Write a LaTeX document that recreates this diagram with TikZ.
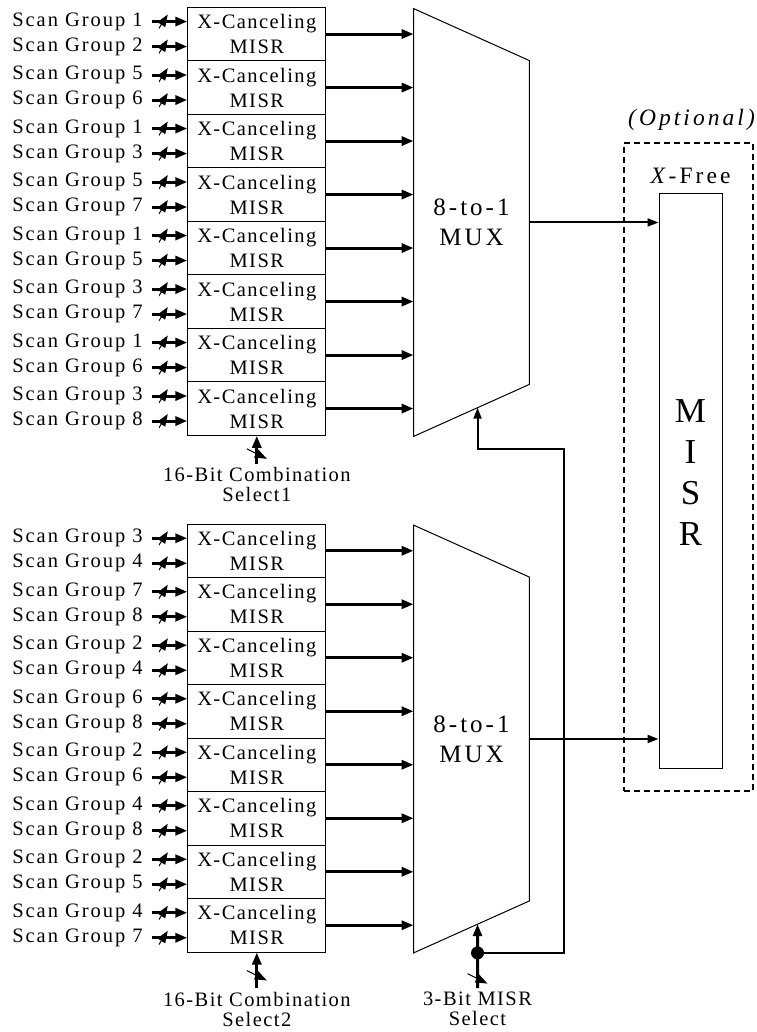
\documentclass[tikz,border=0pt]{standalone}
\usepackage{fontspec}
\setmainfont{Liberation Serif}[LetterSpace=7]
\usetikzlibrary{arrows.meta,positioning,calc}

\begin{document}
\begin{tikzpicture}[x=0.5pt,y=-0.5pt,every node/.style={font=\fontsize{10.25}{12.5}\selectfont,align=center,inner sep=0pt},xmisr/.style={draw,line width=0.5pt,minimum width=69pt,minimum height=26.75pt},mux/.style={minimum width=57.5pt,minimum height=213.5pt,font=\fontsize{12.5}{15}\selectfont\addfontfeature{LetterSpace=12}},grp/.style={anchor=east,inner xsep=4.5pt,font=\fontsize{10.25}{12.5}\selectfont\addfontfeature{LetterSpace=9.5}},sel/.style={font=\fontsize{10.25}{10}\selectfont,inner ysep=1.5pt},bus/.style={-{Triangle[length=6pt,width=4.5pt]},line width=1.5pt},obus/.style={-{Triangle[length=5.5pt,width=4pt]},line width=1pt},tick/.style={minimum width=4.5pt,minimum height=7pt,path picture={\draw[line width=0.5pt] (path picture bounding box.south west)--(path picture bounding box.north east);}},vtick/.style={minimum width=10pt,minimum height=5pt,path picture={\draw[line width=0.5pt] (path picture bounding box.north west)--(path picture bounding box.south east);}}]
\useasboundingbox (0,0) rectangle (756,1032);
% multiplexers
\node[mux] (mux1) at (471.5,222.5) {8-to-1\\MUX};
\node[mux] (mux2) at (471.5,739) {8-to-1\\MUX};
\coordinate (mux1ne) at ($(mux1.north east)+(0,52)$);
\coordinate (mux1se) at ($(mux1.south east)+(0,-52)$);
\coordinate (mux2ne) at ($(mux2.north east)+(0,52)$);
\coordinate (mux2se) at ($(mux2.south east)+(0,-52)$);
\draw[line width=0.5pt] (mux1.north west)--(mux1ne)--(mux1se)--(mux1.south west)--cycle;
\draw[line width=0.5pt] (mux2.north west)--(mux2ne)--(mux2se)--(mux2.south west)--cycle;
% optional X-free MISR
\node[draw,line width=1pt,dash pattern=on 3pt off 2pt,minimum width=64.5pt,minimum height=324pt] (opt) at (688.2,467.2) {};
\node[font=\fontsize{11.75}{14}\selectfont\itshape\addfontfeature{LetterSpace=13}] (optl) at (691.5,120) {(Optional)};
\node[font=\fontsize{11.75}{14}\selectfont\addfontfeature{LetterSpace=13}] (xfree) at (690.5,176) {\textit{X}-Free};
\node[draw,line width=0.5pt,minimum width=31.5pt,minimum height=287pt] (fm) at (690.5,481) {};
\node[font=\fontsize{17.5}{20.5}\selectfont\addfontfeature{LetterSpace=0}] (fmt) at ([yshift=4.25pt]fm.center) {M\\I\\S\\R};
\draw[obus] (mux1.east)--(mux1.east-|fm.west);
\draw[obus] (mux2.east)--(mux2.east-|fm.west);
% X-canceling MISRs, top group
\foreach \a/\b [count=\i from 0] in {1/2,5/6,1/3,5/7,1/5,3/7,1/6,3/8}{
  \node[xmisr] (t\i) at (256.8,{34.05+53.5*\i}) {X-Canceling\\MISR};
  \node[grp] (ta\i) at (152,{21.55+53.5*\i}) {Scan Group \a};
  \node[grp] (tb\i) at (152,{46.55+53.5*\i}) {Scan Group \b};
  \draw[bus] (ta\i.east)--node[tick,pos=0.32]{}(ta\i.east-|t\i.west);
  \draw[bus] (tb\i.east)--node[tick,pos=0.32]{}(tb\i.east-|t\i.west);
  \draw[bus] (t\i.east)--(t\i.east-|mux1.west);
}
% X-canceling MISRs, bottom group
\foreach \a/\b [count=\i from 0] in {3/4,7/8,2/4,6/8,2/6,4/8,2/5,4/7}{
  \node[xmisr] (b\i) at (256.8,{550.75+53.5*\i}) {X-Canceling\\MISR};
  \node[grp] (ba\i) at (152,{538.25+53.5*\i}) {Scan Group \a};
  \node[grp] (bb\i) at (152,{563.25+53.5*\i}) {Scan Group \b};
  \draw[bus] (ba\i.east)--node[tick,pos=0.32]{}(ba\i.east-|b\i.west);
  \draw[bus] (bb\i.east)--node[tick,pos=0.32]{}(bb\i.east-|b\i.west);
  \draw[bus] (b\i.east)--(b\i.east-|mux2.west);
}
% select inputs
\node[sel] (sel1) at (256.8,484.5) {16-Bit Combination\\Select1};
\node[sel] (sel2) at (256.8,1009) {16-Bit Combination\\Select2};
\node[sel] (sel3) at (477.5,1008.5) {3-Bit MISR\\Select};
\draw[bus] (sel1.north)--node[vtick,pos=0.36]{}(t7.south);
\draw[bus] (sel2.north)--node[vtick,pos=0.36]{}(b7.south);
\coordinate (s1tip) at ($(mux1.south west)!0.552!(mux1se)$);
\coordinate (s2tip) at ($(mux2.south west)!0.552!(mux2se)$);
\coordinate (jn) at (s2tip|-mux2.south west);
\coordinate (rt) at (564,449);
\draw[bus] (sel3.north)--node[vtick,pos=0.15]{}(s2tip);
\fill (jn) circle (3.25pt);
\draw[obus] (jn)-|(rt)-|(s1tip);
\end{tikzpicture}
\end{document}
